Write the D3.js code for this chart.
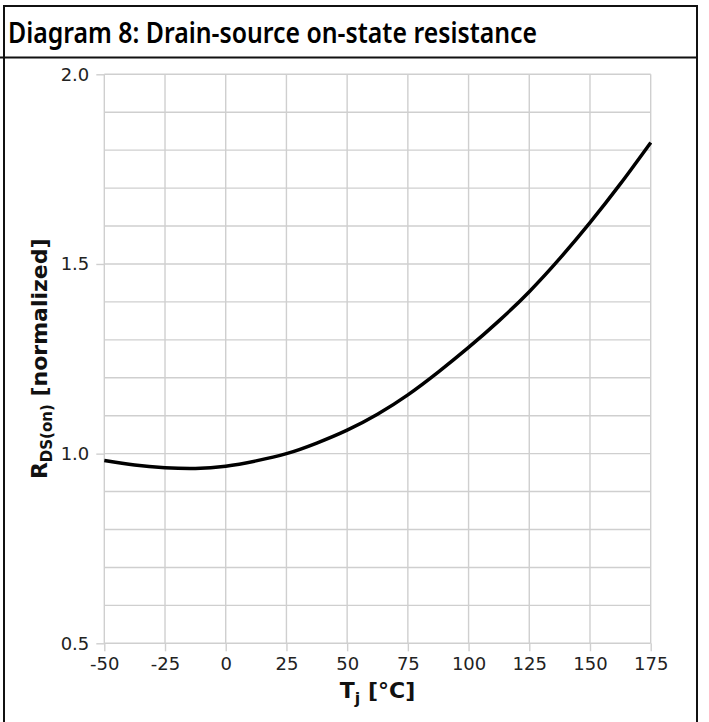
<!DOCTYPE html>
<html>
<head>
<meta charset="utf-8">
<script src="https://cdn.jsdelivr.net/npm/d3@7"></script>
<style>
  body { margin: 0; background: #fff; }
  svg { display: block; }
</style>
</head>
<body>
<div id="chart"></div>
<script>
// data
var temps = [-50, -37.5, -25, -12.5, 0, 12.5, 25, 37.5, 50, 62.5, 75, 87.5, 100, 112.5, 125, 137.5, 150, 162.5, 175];
var rdson = [0.982, 0.970, 0.963, 0.961, 0.967, 0.981, 1.000, 1.028, 1.062, 1.104, 1.155, 1.215, 1.280, 1.350, 1.427, 1.514, 1.609, 1.711, 1.820];
var xTicks = [-50, -25, 0, 25, 50, 75, 100, 125, 150, 175];
var yTicks = [0.5, 1.0, 1.5, 2.0];
var yGrid = d3.range(5, 21).map(function(d) { return d / 10; });
var title = "Diagram 8: Drain-source on-state resistance";

var svg = d3.select("#chart").append("svg").attr("width", 709).attr("height", 722);

var pLeft = 104.3, pRight = 650.7, pTop = 74.3, pBottom = 643.3;

var xScale = d3.scaleLinear().domain([-50, 175]).range([pLeft, pRight]);
var yScale = d3.scaleLinear().domain([0.5, 2.0]).range([pBottom, pTop]);

// frame + title box
svg.append("rect")
   .attr("x", 4).attr("y", 6)
   .attr("width", 693).attr("height", 730)
   .attr("fill", "none").attr("stroke", "#111").attr("stroke-width", 2);
svg.append("line")
   .attr("x1", 0).attr("x2", 697).attr("y1", 57.5).attr("y2", 57.5)
   .attr("stroke", "#111").attr("stroke-width", 2);
svg.append("text")
   .attr("x", 8).attr("y", 43)
   .attr("font-family", "Noto Sans, sans-serif")
   .attr("font-weight", 600)
   .attr("font-size", "29px")
   .attr("textLength", 529)
   .attr("lengthAdjust", "spacingAndGlyphs")
   .attr("fill", "#000")
   .text(title);

var g = svg.append("g");

// grid
g.selectAll(".hgrid").data(yGrid).enter().append("line")
 .attr("class", "hgrid")
 .attr("x1", pLeft).attr("x2", pRight)
 .attr("y1", function(d) { return yScale(d); })
 .attr("y2", function(d) { return yScale(d); })
 .attr("stroke", "#cfcfcf").attr("stroke-width", 1.4);
g.selectAll(".vgrid").data(xTicks).enter().append("line")
 .attr("class", "vgrid")
 .attr("y1", pTop).attr("y2", pBottom)
 .attr("x1", function(d) { return xScale(d); })
 .attr("x2", function(d) { return xScale(d); })
 .attr("stroke", "#cfcfcf").attr("stroke-width", 1.4);

// axes
var xAxis = g.append("g")
 .attr("transform", "translate(0," + pBottom + ")")
 .call(d3.axisBottom(xScale).tickValues(xTicks).tickSize(8).tickPadding(6)
   .tickFormat(function(d) { return String(d); }));
var yAxis = g.append("g")
 .attr("transform", "translate(" + pLeft + ",0)")
 .call(d3.axisLeft(yScale).tickValues(yTicks).tickSize(8).tickPadding(7)
   .tickFormat(function(d) { return d.toFixed(1); }));

[xAxis, yAxis].forEach(function(a) {
  a.select(".domain").remove();
  a.selectAll("line").attr("stroke", "#cfcfcf").attr("stroke-width", 1.4);
  a.selectAll("text")
   .attr("font-family", "DejaVu Sans, sans-serif")
   .attr("font-size", "18px")
   .attr("fill", "#222");
});

// curve
var pts = temps.map(function(t, i) { return [t, rdson[i]]; });
g.append("path")
 .datum(pts)
 .attr("fill", "none")
 .attr("stroke", "#000")
 .attr("stroke-width", 3.5)
 .attr("d", d3.line()
   .x(function(d) { return xScale(d[0]); })
   .y(function(d) { return yScale(d[1]); })
   .curve(d3.curveNatural));

// axis titles
var xl = svg.append("text")
 .attr("x", (pLeft + pRight) / 2).attr("y", 698)
 .attr("text-anchor", "middle")
 .attr("font-family", "DejaVu Sans, sans-serif")
 .attr("font-weight", "bold")
 .attr("font-size", "22px")
 .attr("fill", "#111");
xl.append("tspan").text("T");
xl.append("tspan").attr("font-size", "16px").attr("dy", 6).text("j");
xl.append("tspan").attr("dy", -6).text(" [°C]");

var yl = svg.append("text")
 .attr("transform", "translate(47," + ((pTop + pBottom) / 2) + ") rotate(-90)")
 .attr("text-anchor", "middle")
 .attr("font-family", "DejaVu Sans, sans-serif")
 .attr("font-weight", "bold")
 .attr("font-size", "22px")
 .attr("fill", "#111");
yl.append("tspan").text("R");
yl.append("tspan").attr("font-size", "15px").attr("dy", 5).text("DS(on)");
yl.append("tspan").attr("dy", -5).text("  [normalized]");
</script>
</body>
</html>
